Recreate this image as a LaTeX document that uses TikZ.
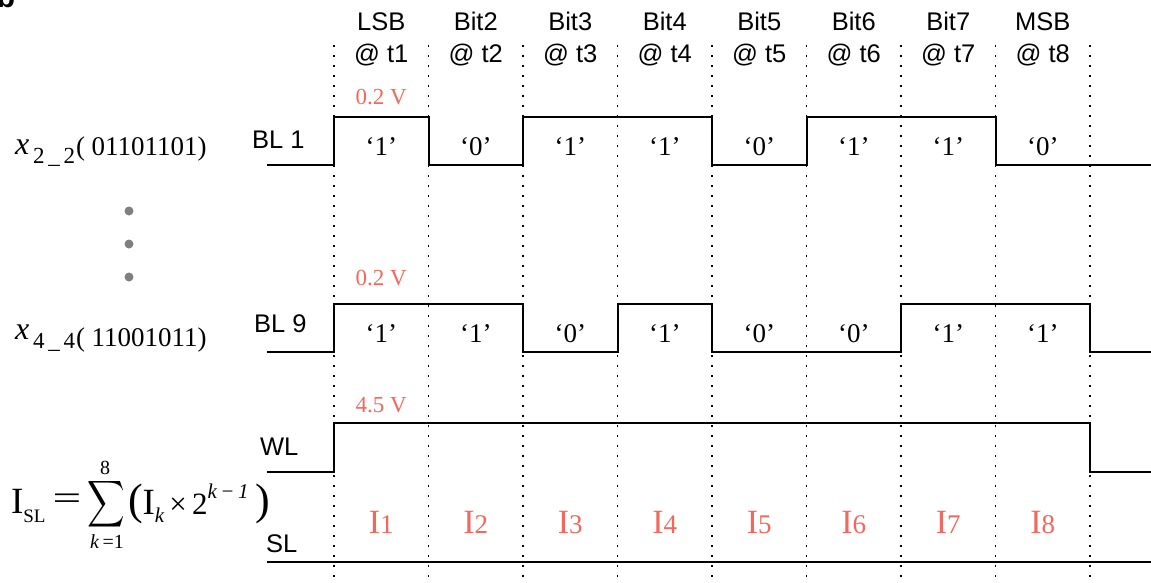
\documentclass[tikz,border=0pt]{standalone}
\usepackage{fontspec}
\setmainfont{Liberation Serif}
\setsansfont{Liberation Sans}
\newfontfamily\arialfam{Liberation Sans}
\definecolor{voltred}{RGB}{242,104,92}
\definecolor{dotgray}{RGB}{128,128,128}
\newcommand{\fs}[1]{\fontsize{#1}{#1}\selectfont}
\tikzset{
  txt/.style={inner sep=0pt, outer sep=0pt},
  wave/.style={line width=2pt, line join=miter, line cap=rect},
  tgrid/.style={line width=1.7pt, dash pattern=on 1.7pt off 8.3pt},
  hdrlbl/.style={txt, font=\arialfam\fs{25.5}},
  bitlbl/.style={txt, font=\fs{27}},
  voltlbl/.style={txt, font=\fs{23}, text=voltred},
  curlbl/.style={txt, text=voltred},
}
\begin{document}
\begin{tikzpicture}[x=1pt, y=-1pt]
\useasboundingbox (0,0) rectangle (1151,582);

% panel letter
\node[txt, anchor=base west, font=\arialfam\bfseries\fs{30}] (panel) at (-3,7) {b};

% time-slot boundaries
\foreach \i in {0,...,8}
  \draw[tgrid] ({334+94.5*\i},45) -- ({334+94.5*\i},582);

% bit headers
\foreach \i/\name in {1/LSB,2/Bit2,3/Bit3,4/Bit4,5/Bit5,6/Bit6,7/Bit7,8/MSB} {
  \node[hdrlbl, anchor=base] (hd\i) at ({381.25+94.5*(\i-1)},30) {\name};
  \node[hdrlbl, anchor=base] (at\i) at ({381.25+94.5*(\i-1)},62) {@ t\i};
}

% signal names
\node[hdrlbl, anchor=base west] (bl1) at (252,148) {BL 1};
\node[hdrlbl, anchor=base west] (bl9) at (254,332) {BL 9};
\node[hdrlbl, anchor=base west] (wl) at (260,455) {WL};
\node[hdrlbl, anchor=base west] (sl) at (266,552) {SL};

% waveforms
\draw[wave] (268,165) -- (334,165) -- (334,117) -- (428.5,117) -- (428.5,165)
  -- (523,165) -- (523,117) -- (712,117) -- (712,165) -- (806.5,165)
  -- (806.5,117) -- (995.5,117) -- (995.5,165) -- (1151,165);
\draw[wave] (268,352) -- (334,352) -- (334,304) -- (523,304) -- (523,352)
  -- (617.5,352) -- (617.5,304) -- (712,304) -- (712,352) -- (901,352)
  -- (901,304) -- (1090,304) -- (1090,352) -- (1151,352);
\draw[wave] (268,472) -- (334,472) -- (334,423) -- (1090,423) -- (1090,472) -- (1151,472);
\draw[wave] (268,562) -- (1151,562);

% voltage levels
\node[voltlbl, anchor=base] (v1) at (381.25,104) {0.2 V};
\node[voltlbl, anchor=base] (v9) at (381.25,285) {0.2 V};
\node[voltlbl, anchor=base] (vw) at (381.25,412) {4.5 V};

% bit values
\foreach \i/\b in {1/1,2/0,3/1,4/1,5/0,6/1,7/1,8/0}
  \node[bitlbl, anchor=base] (a\i) at ({381.25+94.5*(\i-1)},155) {‘\b’};
\foreach \i/\b in {1/1,2/1,3/0,4/1,5/0,6/0,7/1,8/1}
  \node[bitlbl, anchor=base] (c\i) at ({381.25+94.5*(\i-1)},342) {‘\b’};

% per-slot currents
\foreach \i in {1,...,8}
  \node[curlbl, anchor=base] (i\i) at ({381.25+94.5*(\i-1)},533) {{\fs{34}I}{\fs{27}\i}};

% input words
\node[txt, anchor=base west, font=\fs{32}\itshape] (xa) at (15,154) {x};
\node[txt, anchor=base west, font=\fs{23}] (xas) at (33,163) {2\,\_\,2};
\node[txt, anchor=base west, font=\fs{27}] (xaw) at (76,155) {( 01101101)};
\node[txt, anchor=base west, font=\fs{32}\itshape] (xb) at (15,339) {x};
\node[txt, anchor=base west, font=\fs{23}] (xbs) at (33,348) {4\,\_\,4};
\node[txt, anchor=base west, font=\fs{27}] (xbw) at (76,346) {( 11001011)};

% rows in between
\foreach \y in {211,244,277}
  \fill[dotgray] (129,\y) circle (4.5);

% weighted sum on the source line
\node[txt, anchor=base west] (isl) at (11,513) {{\fs{37}I}\raisebox{-9pt}{\fs{19}SL}};
\node[txt] (eq) at (67,502) {\fs{34}\scalebox{1.5}[1]{=}};
\node[txt] (sum) at (106,504) {\scalebox{2.6}[3.25]{$\displaystyle\sum$}};
\node[txt, anchor=base, font=\fs{20}] (sup8) at (105,474) {8};
\node[txt, anchor=base, font=\fs{20}] (klow) at (107,548) {\textit{k}\,=1};
\node[txt, anchor=base west] (rhs) at (128,514) {{\fs{44}(}{\fs{37}I}\raisebox{-8pt}{\fs{21}\itshape k}{\fs{31}\,×\,2}\raisebox{16pt}{\fs{21}\itshape k\,−\,1}{\fs{44}\,)}};
\end{tikzpicture}
\end{document}
